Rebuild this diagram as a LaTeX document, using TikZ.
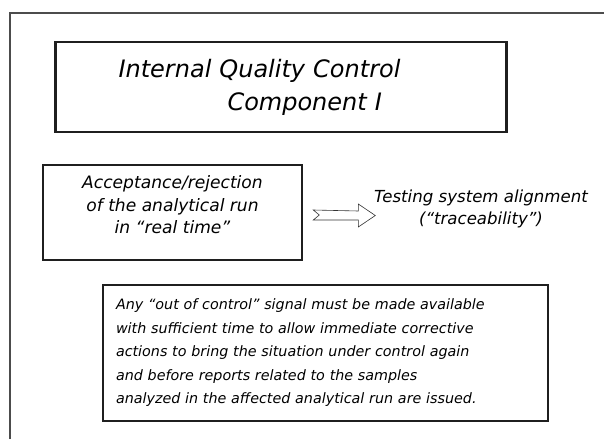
\documentclass[tikz,border=0pt]{standalone}
\usepackage{fontspec}
\setmainfont{DejaVu Sans}
\usetikzlibrary{calc}
\begin{document}
\begin{tikzpicture}[x=1pt,y=-1pt,
                        frame/.style={draw=black!70, line width=1.3pt},
                        box/.style={draw=black!88, line width=2.6pt},
                        hollow/.style={draw=black!80, line width=0.6pt, fill=white},
                        big/.style={font=\fontsize{24}{33}\selectfont\itshape},
                        mid/.style={font=\fontsize{17.1}{22.5}\selectfont\itshape},
                        small/.style={font=\fontsize{16.6}{22}\selectfont\itshape},
                        note/.style={font=\fontsize{14.3}{23.5}\selectfont\itshape},
                        ]
                        \useasboundingbox (0,0) rectangle (604,439);
                        %Rahmen
                        \draw [frame] (10,439) -- (10,13) -- (604,13);
                        %Titel
                        \node [box, big, align=left, inner xsep=63pt, text width=325pt,
                               minimum height=90pt] (title) at (281,87)
                              {Internal Quality Control\\\hspace*{109pt}Component I};
                        %Kasten links
                        \node [box, mid, align=center, minimum width=259pt,
                               minimum height=95pt, text depth=16pt] (accept) at (172.5,212.5)
                              {Acceptance/rejection\\of the analytical run\\in ``real time''};
                        %Text rechts
                        \node [small, align=center] (testing) at (481,209)
                              {Testing system alignment\\(``traceability'')};
                        %Pfeil
                        \coordinate (a0) at ($(accept.east)+(10,-2.5)$);
                        \draw [hollow] (a0) -- ++(6,5) -- ++(-6,5) -- ++(45,0) -- ++(0,7)
                              -- ++(17,-11.5) -- ++(-17,-11.5) -- ++(0,7) -- cycle;
                        %Kasten unten
                        \node [box, note, align=left, inner xsep=13pt, text width=419pt,
                               minimum height=136pt] (signal) at (325.5,353)
                              {Any ``out of control'' signal must be made available\\
                               with sufficient time to allow immediate corrective\\
                               actions to bring the situation under control again\\
                               and before reports related to the samples\\
                               analyzed in the affected analytical run are issued.};
                \end{tikzpicture}
\end{document}
